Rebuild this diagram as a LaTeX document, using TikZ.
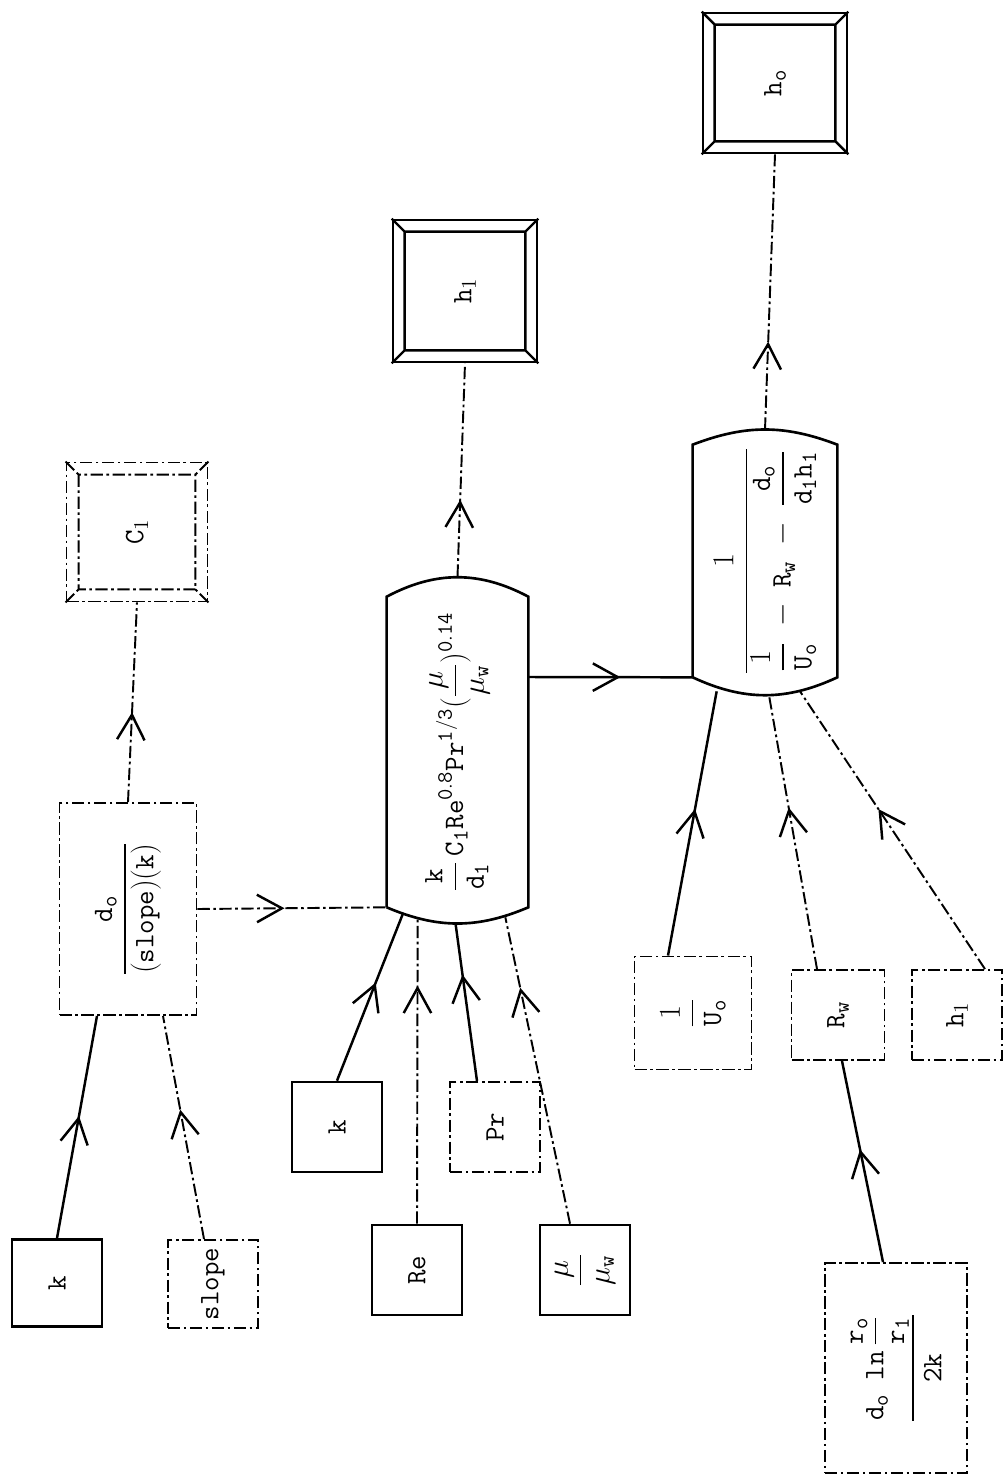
\documentclass[tikz,border=0pt]{standalone}
\usepackage{amsmath}
\usepackage{fontspec}
\setmainfont{Latin Modern Mono}
\DeclareMathSizes{16}{16}{12.5}{10}
\usetikzlibrary{arrows.meta,decorations.markings,calc}

\begin{document}
\begin{tikzpicture}[
    x=0.02cm, y=-0.02cm,
    font=\fontsize{16}{19}\selectfont,
    box/.style={draw, line width=1.5pt, rectangle, inner sep=0pt},
    faint/.style={line width=1.1pt, dash pattern=on 7pt off 2pt on 1.5pt off 2pt},
    link/.style={line width=1.4pt},
    midarrow/.style={postaction={decorate}, decoration={markings,
        mark=at position #1 with {\arrow[line width=1.4pt, solid]{Straight Barb[length=5mm, width=5.5mm]}}}}
]
    \useasboundingbox (0,0) rectangle (1005,1480);

    % Inputs for the constant
    \node[box, minimum width=1.8cm, minimum height=1.74cm] (kin) at (57,1283) {\rotatebox{90}{k}};
    \node[box, faint, minimum width=1.8cm, minimum height=1.76cm] (slope) at (213,1284) {\rotatebox{90}{slope}};
    \node[box, faint, minimum width=2.74cm, minimum height=4.24cm] (ratio) at (128,909)
        {\rotatebox{90}{$\dfrac{\mathrm{d_o}}{\mathrm{(slope)(k)}}$}};
    \node[box, faint, minimum width=2.82cm, minimum height=2.78cm] (cone) at (137,532) {\rotatebox{90}{C$_1$}};

    % Inputs for the film coefficient
    \node[box, minimum width=1.8cm, minimum height=1.8cm] (kfilm) at (337,1127) {\rotatebox{90}{k}};
    \node[box, minimum width=1.8cm, minimum height=1.8cm] (re) at (417,1270) {\rotatebox{90}{Re}};
    \node[box, faint, minimum width=1.8cm, minimum height=1.8cm] (pr) at (495,1127) {\rotatebox{90}{Pr}};
    \node[box, minimum width=1.8cm, minimum height=1.8cm] (mu) at (585,1270)
        {\rotatebox{90}{$\dfrac{\mu}{\mu_{\mathrm{w}}}$}};

    % Film coefficient
    \node[minimum width=2.82cm, minimum height=6.2cm, inner sep=0pt] (hicalc) at (457.5,752)
        {\rotatebox{90}{$\dfrac{\mathrm{k}}{\mathrm{d_1}}\,\mathrm{C_1Re^{0.8}Pr^{1/3}}(\dfrac{\mu}{\mu_{\mathrm{w}}})^{\mathrm{0.14}}$}};
    \draw[line width=1.5pt] (hicalc.south west) -- (hicalc.north west) to[bend left=28] (hicalc.north east)
        -- (hicalc.south east) to[bend left=23] (hicalc.south west);
    \node[box, minimum width=2.88cm, minimum height=2.84cm] (hiout) at (465,291) {\rotatebox{90}{h$_1$}};

    % Outside coefficient
    \node[minimum width=2.88cm, minimum height=4.64cm, inner sep=0pt] (hocalc) at (765,561)
        {\rotatebox{90}{$\dfrac{1}{\dfrac{1}{\mathrm{U_o}}\;-\;\mathrm{R_w}\;-\;\dfrac{\mathrm{d_o}}{\mathrm{d_1h_1}}}$}};
    \draw[line width=1.5pt] (hocalc.south west) -- (hocalc.north west) to[bend left=21] (hocalc.north east)
        -- (hocalc.south east) to[bend left=25] (hocalc.south west);
    \node[box, minimum width=2.88cm, minimum height=2.8cm] (hoout) at (775,83) {\rotatebox{90}{h$_\mathrm{o}$}};

    % Inputs for the outside coefficient
    \node[box, faint, minimum width=2.34cm, minimum height=2.26cm] (uin) at (693,1013)
        {\rotatebox{90}{$\dfrac{1}{\mathrm{U_o}}$}};
    \node[box, faint, minimum width=1.86cm, minimum height=1.8cm] (rwin) at (838,1015) {\rotatebox{90}{R$_\mathrm{w}$}};
    \node[box, faint, minimum width=1.8cm, minimum height=1.8cm] (hiin) at (957,1015) {\rotatebox{90}{h$_1$}};
    \node[box, faint, minimum width=2.84cm, minimum height=4.2cm] (rwcalc) at (896,1368)
        {\rotatebox{90}{$\dfrac{\mathrm{d_o}\;\ln\dfrac{\mathrm{r_o}}{\mathrm{r_1}}}{\mathrm{2k}}$}};

    % Bevelled output boxes
    \draw[faint] ($(cone.north west)+(13,13)$) rectangle ($(cone.south east)+(-13,-13)$)
        (cone.north west) -- ++(13,13) (cone.north east) -- ++(-13,13)
        (cone.south west) -- ++(13,-13) (cone.south east) -- ++(-13,-13);
    \draw[link] ($(hiout.north west)+(13,13)$) rectangle ($(hiout.south east)+(-13,-13)$)
        (hiout.north west) -- ++(13,13) (hiout.north east) -- ++(-13,13)
        (hiout.south west) -- ++(13,-13) (hiout.south east) -- ++(-13,-13);
    \draw[link] ($(hoout.north west)+(13,13)$) rectangle ($(hoout.south east)+(-13,-13)$)
        (hoout.north west) -- ++(13,13) (hoout.north east) -- ++(-13,13)
        (hoout.south west) -- ++(13,-13) (hoout.south east) -- ++(-13,-13);

    % Connections
    \draw[link, midarrow=0.55] (kin.north) -- ($(ratio.south)+(-31,0)$);
    \draw[faint, midarrow=0.58] ($(slope.north)+(-9,0)$) -- ($(ratio.south)+(35,0)$);
    \draw[faint, midarrow=0.46] (ratio.east) -- (hicalc.south west);
    \draw[faint, midarrow=0.45] (ratio.north) -- (cone.south);
    \draw[link, midarrow=0.59] (kfilm.north) -- ($(hicalc.south west)+(16,7)$);
    \draw[faint, midarrow=0.78] (re.north) -- ($(hicalc.south west)+(31,11)$);
    \draw[link, midarrow=0.675] ($(pr.north)+(-18,0)$) -- ($(hicalc.south)+(-2,16)$);
    \draw[faint, midarrow=0.77] ($(mu.north)+(-15,0)$) -- ($(hicalc.south east)+(-23,10)$);
    \draw[faint, midarrow=0.36] ($(hicalc.north)+(0,-20)$) -- (hiout.south);
    \draw[link, midarrow=0.56] ($(hicalc.east)+(0,-75)$) -- (hocalc.south west);
    \draw[faint, midarrow=0.32] ($(hocalc.north)+(0,-15)$) -- (hoout.south);
    \draw[link, midarrow=0.555] ($(uin.north)+(-25,0)$) -- ($(hocalc.south west)+(24,14)$);
    \draw[faint, midarrow=0.59] ($(rwin.north)+(-21,0)$) -- ($(hocalc.south)+(4,18)$);
    \draw[faint, midarrow=0.576] ($(hiin.north)+(28,0)$) -- ($(hocalc.south)+(35,14)$);
    \draw[link, midarrow=0.56] ($(rwcalc.north)+(-13,0)$) -- ($(rwin.south)+(4,0)$);

\end{tikzpicture}
\end{document}
